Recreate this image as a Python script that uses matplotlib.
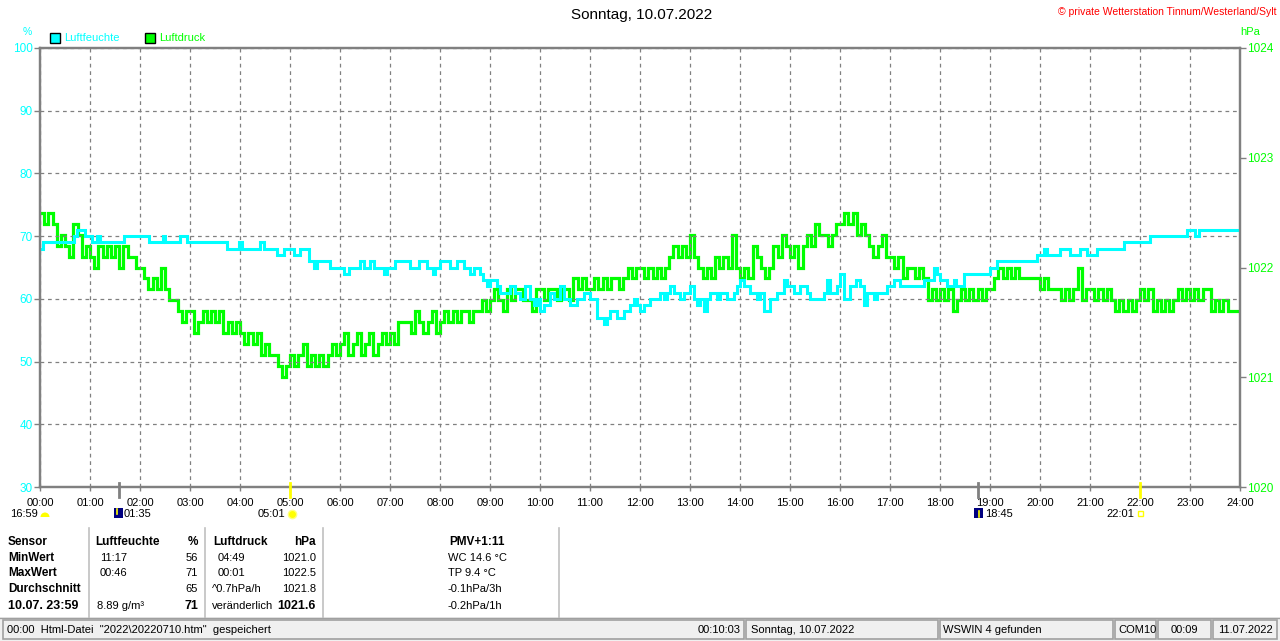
import matplotlib
matplotlib.use('Agg')
from matplotlib import pyplot as plt
from matplotlib import patches
from matplotlib import transforms
import numpy as np

plt.rcParams['font.family'] = ['Liberation Sans', 'DejaVu Sans']

W, H = 1280, 641

# humidity (%) as change points: hour of day, value
hum_t = [0.0, 0.05, 0.67, 0.73, 0.9, 1.03, 1.13, 1.2, 1.67, 2.17, 2.45, 2.5, 2.8, 2.93,
         3.73, 3.97, 4.03, 4.4, 4.47, 4.73, 4.87, 5.07, 5.2, 5.37, 5.47, 5.53, 5.8,
         6.07, 6.17, 6.4, 6.47, 6.6, 6.67, 6.87, 6.93, 7.1, 7.4, 7.57, 7.73, 7.85, 7.9,
         8.0, 8.2, 8.33, 8.47, 8.6, 8.67, 8.8, 8.87, 8.93, 9.0, 9.13, 9.2, 9.4, 9.5,
         9.6, 9.7, 9.8, 9.87, 9.93, 10.0, 10.07, 10.2, 10.27, 10.4, 10.47, 10.6, 10.73,
         10.87, 11.0, 11.13, 11.27, 11.33, 11.4, 11.53, 11.67, 11.8, 11.87, 11.93, 12.0,
         12.07, 12.2, 12.4, 12.47, 12.53, 12.6, 12.67, 12.8, 12.87, 13.0, 13.07, 13.13,
         13.2, 13.27, 13.33, 13.4, 13.53, 13.6, 13.73, 13.87, 13.93, 14.0, 14.07, 14.2,
         14.33, 14.4, 14.47, 14.6, 14.73, 14.87, 14.93, 15.07, 15.2, 15.33, 15.4, 15.67,
         15.73, 15.8, 15.93, 16.0, 16.07, 16.2, 16.33, 16.4, 16.47, 16.53, 16.67, 16.73,
         16.93, 17.07, 17.2, 17.67, 17.87, 17.93, 18.0, 18.13, 18.27, 18.33, 18.47, 19.0,
         19.13, 19.93, 20.07, 20.13, 20.4, 20.6, 20.8, 20.93, 21.13, 21.67, 22.2, 22.93,
         23.1, 23.17, 24.0]
hum_v = [68, 69, 70, 71, 70, 69, 70, 69, 70, 69, 70, 69, 70, 69,
         68, 69, 68, 69, 68, 67, 68, 67, 68, 66, 65, 66, 65,
         64, 65, 66, 65, 66, 65, 64, 65, 66, 65, 66, 65, 64, 65,
         66, 65, 66, 65, 64, 65, 64, 63, 62, 63, 62, 61, 62, 61,
         60, 62, 60, 59, 60, 58, 59, 61, 60, 62, 60, 59, 60,
         61, 60, 57, 56, 57, 58, 57, 58, 59, 60, 59, 58,
         59, 60, 61, 60, 61, 62, 61, 60, 61, 62, 60, 59,
         60, 58, 60, 61, 60, 61, 60, 61, 62, 63, 62, 61,
         60, 61, 58, 60, 61, 63, 62, 61, 62, 61, 60, 61,
         63, 61, 62, 64, 60, 62, 63, 62, 59, 61, 60, 61,
         62, 63, 62, 63, 65, 64, 63, 62, 63, 62, 64, 65,
         66, 67, 68, 67, 68, 67, 68, 67, 68, 69, 70, 71,
         70, 71, 71]

# air pressure (hPa), 5-minute readings, one row per hour
press_rows = [
    [1022.5, 1022.4, 1022.5, 1022.4, 1022.2, 1022.3, 1022.2, 1022.1, 1022.4, 1022.3, 1022.1, 1022.2],
    [1022.1, 1022.0, 1022.2, 1022.1, 1022.2, 1022.1, 1022.2, 1022.0, 1022.2, 1022.1, 1022.1, 1022.0],
    [1022.0, 1021.9, 1021.8, 1021.9, 1021.8, 1022.0, 1021.8, 1021.7, 1021.7, 1021.6, 1021.5, 1021.6],
    [1021.6, 1021.4, 1021.5, 1021.6, 1021.5, 1021.6, 1021.5, 1021.6, 1021.4, 1021.5, 1021.4, 1021.5],
    [1021.4, 1021.3, 1021.4, 1021.3, 1021.4, 1021.2, 1021.3, 1021.2, 1021.2, 1021.1, 1021.0, 1021.1],
    [1021.2, 1021.1, 1021.2, 1021.3, 1021.1, 1021.2, 1021.1, 1021.2, 1021.1, 1021.2, 1021.3, 1021.2],
    [1021.3, 1021.4, 1021.2, 1021.3, 1021.4, 1021.2, 1021.3, 1021.4, 1021.2, 1021.3, 1021.4, 1021.3],
    [1021.4, 1021.3, 1021.5, 1021.5, 1021.5, 1021.4, 1021.6, 1021.5, 1021.4, 1021.5, 1021.6, 1021.4],
    [1021.5, 1021.6, 1021.5, 1021.6, 1021.5, 1021.6, 1021.6, 1021.5, 1021.6, 1021.6, 1021.7, 1021.6],
    [1021.7, 1021.8, 1021.7, 1021.6, 1021.8, 1021.7, 1021.8, 1021.8, 1021.7, 1021.7, 1021.6, 1021.8],
    [1021.8, 1021.7, 1021.8, 1021.8, 1021.7, 1021.8, 1021.8, 1021.7, 1021.9, 1021.8, 1021.9, 1021.8],
    [1021.8, 1021.9, 1021.8, 1021.9, 1021.8, 1021.9, 1021.9, 1021.8, 1021.9, 1022.0, 1021.9, 1022.0],
    [1022.0, 1021.9, 1022.0, 1021.9, 1022.0, 1021.9, 1022.0, 1022.1, 1022.2, 1022.1, 1022.2, 1022.1],
    [1022.3, 1022.1, 1022.0, 1021.9, 1022.0, 1021.9, 1022.1, 1022.0, 1022.1, 1022.0, 1022.3, 1022.0],
    [1021.9, 1022.0, 1021.9, 1022.2, 1022.1, 1022.0, 1021.9, 1022.0, 1022.2, 1022.1, 1022.3, 1022.2],
    [1022.1, 1022.2, 1022.0, 1022.2, 1022.3, 1022.2, 1022.4, 1022.3, 1022.3, 1022.2, 1022.3, 1022.4],
    [1022.4, 1022.5, 1022.4, 1022.5, 1022.3, 1022.4, 1022.3, 1022.2, 1022.1, 1022.2, 1022.3, 1022.1],
    [1022.1, 1022.0, 1022.1, 1021.9, 1022.0, 1022.0, 1021.9, 1022.0, 1021.9, 1021.7, 1021.8, 1021.7],
    [1021.8, 1021.7, 1021.8, 1021.6, 1021.7, 1021.8, 1021.7, 1021.8, 1021.7, 1021.8, 1021.7, 1021.8],
    [1021.8, 1021.9, 1022.0, 1021.9, 1022.0, 1021.9, 1022.0, 1021.9, 1021.9, 1021.9, 1021.9, 1021.9],
    [1021.8, 1021.9, 1021.8, 1021.8, 1021.8, 1021.7, 1021.8, 1021.7, 1021.8, 1022.0, 1021.7, 1021.8],
    [1021.8, 1021.7, 1021.8, 1021.7, 1021.8, 1021.7, 1021.6, 1021.7, 1021.6, 1021.7, 1021.6, 1021.7],
    [1021.8, 1021.7, 1021.8, 1021.6, 1021.7, 1021.6, 1021.7, 1021.6, 1021.7, 1021.8, 1021.7, 1021.8],
    [1021.7, 1021.8, 1021.7, 1021.8, 1021.8, 1021.6, 1021.7, 1021.6, 1021.7, 1021.6, 1021.6, 1021.6],
]
press_last = 1021.6

hour_labels = ['%02d:00' % h for h in range(25)]
hum_ticks = [30, 40, 50, 60, 70, 80, 90, 100]
press_ticks = [1020, 1021, 1022, 1023, 1024]

CYAN = '#00ffff'
GREEN = '#00ff00'
GRAY = '#808080'

press_v = [v for row in press_rows for v in row] + [press_last]
press_t = np.arange(len(press_v)) / 12.0

fig = plt.figure(figsize=(W / 100, H / 100), dpi=100, facecolor='white')

def px(x, y):
    return x / W, 1 - y / H

# plot area 40..1240 x 48..487 pixels
l, b = px(40, 487)
ax = fig.add_axes([l, b, 1200 / W, 439 / H])
ax2 = ax.twinx()
ax.set_zorder(2)
ax.patch.set_visible(False)

ax.set_xlim(0, 24)
ax.set_ylim(30, 100)
ax2.set_ylim(1020, 1024)

ax2.step(press_t, press_v, where='post', color=GREEN, lw=2.3, solid_joinstyle='miter')
ax.step(hum_t, hum_v, where='post', color=CYAN, lw=2.2, solid_joinstyle='miter')

ax.set_xticks(range(25))
ax.set_xticklabels(hour_labels, fontsize=8)
ax.set_yticks(hum_ticks)
ax.set_yticklabels([str(v) for v in hum_ticks], fontsize=8.5, color=CYAN)
ax2.set_yticks(press_ticks)
ax2.set_yticklabels([str(v) for v in press_ticks], fontsize=8.5, color=GREEN)

ax.tick_params(axis='x', length=3, color=GRAY, width=1, pad=5)
ax.tick_params(axis='y', length=4, color=GRAY, width=1, pad=1)
ax2.tick_params(axis='y', length=4, color=GRAY, width=1, pad=1)

ax.grid(True, color=GRAY, linestyle=(0, (3, 3)), linewidth=0.9)
for a in (ax, ax2):
    for s in a.spines.values():
        s.set_color(GRAY)
        s.set_linewidth(1.6)

# sunrise / sunset / moon markers on the time axis
trans = transforms.blended_transform_factory(ax.transData, ax.transAxes)
for t, c, w in [(1.583, GRAY, 2), (18.75, GRAY, 2), (5.0, '#ffff00', 2), (22.0, '#ffff00', 2)]:
    ax.plot([t, t], [0.008, -0.022], color=c, lw=w, transform=trans, clip_on=False, zorder=5)

# overlay in pixel coordinates for the surrounding texts
ov = fig.add_axes([0, 0, 1, 1], zorder=0)
ov.set_xlim(0, W)
ov.set_ylim(H, 0)
ov.axis('off')

ov.text(642, 15, 'Sonntag, 10.07.2022', ha='center', va='center', fontsize=11)
ov.text(1277, 12, '\u00a9 private Wetterstation Tinnum/Westerland/Sylt', ha='right', va='center',
        fontsize=7.5, color='red')
ov.text(27, 32, '%', ha='center', va='center', fontsize=7.5, color=CYAN)
ov.text(1250, 32, 'hPa', ha='center', va='center', fontsize=8, color=GREEN)

ov.add_patch(patches.Rectangle((50, 33), 10, 10, facecolor=CYAN, edgecolor='black', lw=1))
ov.text(64, 38, 'Luftfeuchte', va='center', fontsize=8, color=CYAN)
ov.add_patch(patches.Rectangle((145, 33), 10, 10, facecolor=GREEN, edgecolor='black', lw=1))
ov.text(159, 38, 'Luftdruck', va='center', fontsize=8, color=GREEN)

# astro times under the axis
ov.text(38, 514, '16:59', ha='right', va='center', fontsize=8)
ov.add_patch(patches.Wedge((45, 517), 4.5, 180, 360, facecolor='#ffff00', edgecolor='none'))
ov.add_patch(patches.Rectangle((114, 508), 9, 10, facecolor='#000080', edgecolor='none'))
ov.plot([117, 117], [509, 514], color='#ffff00', lw=1.2)
ov.text(124, 514, '01:35', va='center', fontsize=8)
ov.text(285, 514, '05:01', ha='right', va='center', fontsize=8)
ov.plot([292], [514], marker='o', ms=6, color='#ffff00', mec='#ffff80')
ov.add_patch(patches.Rectangle((974, 508), 9, 10, facecolor='#000080', edgecolor='none'))
ov.plot([979, 979], [511, 517], color='#ffff00', lw=1.2)
ov.text(985, 514, '18:45', va='center', fontsize=8)
ov.text(1134, 514, '22:01', ha='right', va='center', fontsize=8)
ov.add_patch(patches.Rectangle((1138, 511), 5, 5, facecolor='none', edgecolor='#ffff00', lw=1))

# statistics table
for x in (89, 205, 323, 559):
    ov.plot([x, x], [528, 617], color='#c0c0c0', lw=1.2)

rows_y = [542, 558, 573, 589, 606]
ov.text(8, rows_y[0], 'Sensor', va='center', fontsize=8.5, fontweight='bold')
ov.text(95, rows_y[0], 'Luftfeuchte', va='center', fontsize=8.5, fontweight='bold')
ov.text(198, rows_y[0], '%', ha='right', va='center', fontsize=8.5, fontweight='bold')
ov.text(213, rows_y[0], 'Luftdruck', va='center', fontsize=8.5, fontweight='bold')
ov.text(316, rows_y[0], 'hPa', ha='right', va='center', fontsize=8.5, fontweight='bold')
ov.text(477, rows_y[0], 'PMV+1:11', ha='center', va='center', fontsize=8.5, fontweight='bold')

labels = ['MinWert', 'MaxWert', 'Durchschnitt', '10.07. 23:59']
hum_time = ['11:17', '00:46', '', '8.89 g/m\u00b3']
hum_val = ['56', '71', '65', '71']
pr_time = ['04:49', '00:01', '^0.7hPa/h', 'ver\u00e4nderlich']
pr_val = ['1021.0', '1022.5', '1021.8', '1021.6']
extra = ['WC 14.6 \u00b0C', 'TP 9.4 \u00b0C', '-0.1hPa/3h', '-0.2hPa/1h']
for i in range(4):
    y = rows_y[i + 1]
    last = i == 3
    bsize = 9 if last else 8.5
    ov.text(8, y, labels[i], va='center', fontsize=bsize, fontweight='bold')
    ov.text(100 if not last else 97, y, hum_time[i], va='center', fontsize=8)
    ov.text(198, y, hum_val[i], ha='right', va='center', fontsize=bsize if last else 8,
            fontweight='bold' if last else 'normal')
    ov.text(218 if i < 2 else 212, y, pr_time[i], va='center', fontsize=8)
    ov.text(316, y, pr_val[i], ha='right', va='center', fontsize=bsize if last else 8,
            fontweight='bold' if last else 'normal')
    ov.text(448, y, extra[i], va='center', fontsize=8)

# status bar
ov.add_patch(patches.Rectangle((0, 617), W, 24, facecolor='#f0f0f0', edgecolor='none'))
ov.plot([0, W], [617.5, 617.5], color='#a0a0a0', lw=1)
panels = [(3, 744), (746, 938), (940, 1113), (1115, 1156), (1158, 1211), (1213, 1277)]
for x0, x1 in panels:
    ov.add_patch(patches.Rectangle((x0, 620), x1 - x0, 19, facecolor='#f0f0f0',
                                   edgecolor='#a0a0a0', lw=1.2))
ov.text(7, 630, '00:00  Html-Datei  "2022\\20220710.htm"  gespeichert', va='center', fontsize=8)
ov.text(741, 630, '00:10:03', ha='right', va='center', fontsize=8)
ov.text(751, 630, 'Sonntag, 10.07.2022', va='center', fontsize=8)
ov.text(943, 630, 'WSWIN 4 gefunden', va='center', fontsize=8)
ov.text(1118, 630, 'COM10', va='center', fontsize=8)
ov.text(1184, 630, '00:09', ha='center', va='center', fontsize=8)
ov.text(1245, 630, '11.07.2022', ha='center', va='center', fontsize=8)

fig.savefig('out.png', dpi=100, facecolor='white')
